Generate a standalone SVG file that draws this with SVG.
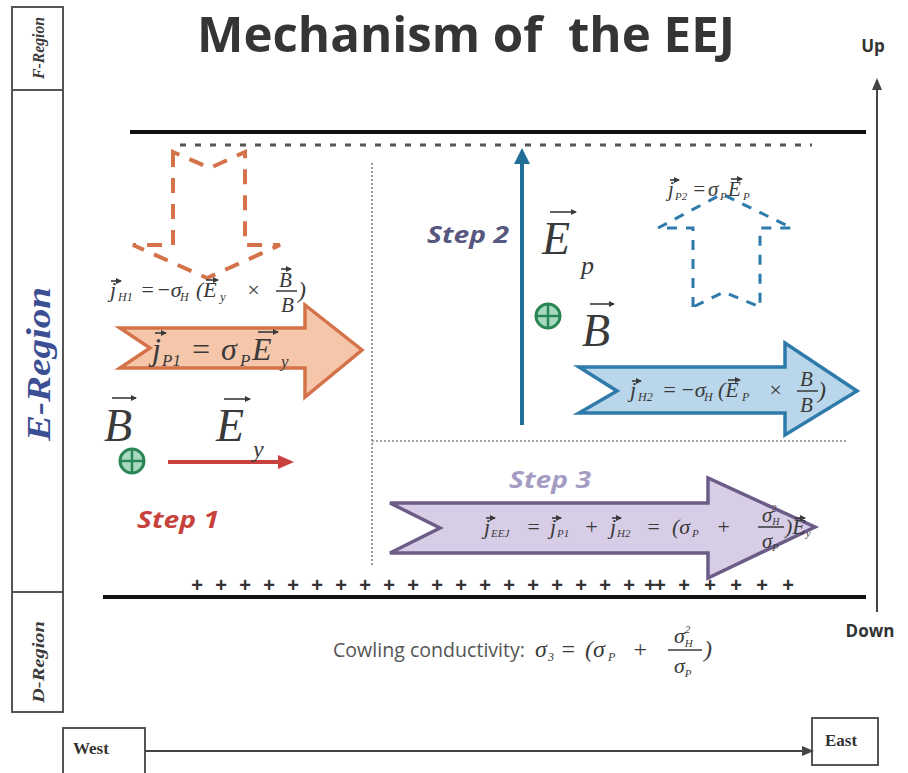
<svg xmlns="http://www.w3.org/2000/svg" width="908" height="773" viewBox="0 0 908 773">
<defs>
<style>
.m{font-family:"Liberation Serif","DejaVu Serif",serif;font-style:italic;fill:#3a3a3a}
.step{font-family:"Open Sans","Liberation Sans",sans-serif;font-weight:700;font-style:italic;font-size:24px}
.reg{font-family:"Liberation Serif",serif;font-weight:700;font-style:italic;fill:#3a3a3a}
.box{fill:#fff;stroke:#555;stroke-width:2}
.va{stroke:#3a3a3a;stroke-width:1.6;fill:none}
.lbl{font-family:"Liberation Serif",serif;font-weight:700;fill:#333;font-size:17px}
.frac{stroke:#3a3a3a;stroke-width:1.5}
</style>
<marker id="vh" markerWidth="6" markerHeight="6" refX="5" refY="3" orient="auto" markerUnits="userSpaceOnUse"><path d="M0,0 L6,3 L0,6 Z" fill="#3a3a3a"/></marker>
<marker id="ah" markerWidth="12" markerHeight="12" refX="10" refY="6" orient="auto" markerUnits="userSpaceOnUse"><path d="M0,1 L12,6 L0,11 Z" fill="#444"/></marker>
<marker id="ahb" markerWidth="16" markerHeight="16" refX="12" refY="8" orient="auto" markerUnits="userSpaceOnUse"><path d="M0,0 L16,8 L0,16 Z" fill="#1f6f99"/></marker>
<marker id="ahr" markerWidth="16" markerHeight="16" refX="12" refY="8" orient="auto" markerUnits="userSpaceOnUse"><path d="M0,1 L16,8 L0,15 Z" fill="#c9413e"/></marker>
</defs>
<rect width="908" height="773" fill="#fff"/>

<!-- title -->
<text id="title" x="197" y="52" textLength="538" lengthAdjust="spacingAndGlyphs" font-family="Open Sans, Liberation Sans, sans-serif" font-weight="700" font-size="49" fill="#353535" xml:space="preserve">Mechanism of  the EEJ</text>

<!-- left region column -->
<g id="regions">
<rect class="box" x="12" y="7" width="51" height="705"/>
<line x1="12" y1="90" x2="63" y2="90" stroke="#555" stroke-width="2"/>
<line x1="12" y1="592" x2="63" y2="592" stroke="#555" stroke-width="2"/>
<text class="reg" font-size="17" transform="translate(44,48) rotate(-90)" text-anchor="middle" textLength="62" lengthAdjust="spacingAndGlyphs">F-Region</text>
<text class="reg" font-size="33" style="fill:#3c4f94" transform="translate(50,364) rotate(-90)" text-anchor="middle" textLength="154" lengthAdjust="spacingAndGlyphs">E-Region</text>
<text class="reg" font-size="17" transform="translate(44,662) rotate(-90)" text-anchor="middle" textLength="82" lengthAdjust="spacingAndGlyphs">D-Region</text>
</g>

<!-- boundary lines -->
<g id="layers">
<line x1="130" y1="132" x2="866" y2="132" stroke="#111" stroke-width="4"/>
<line x1="180" y1="145" x2="812" y2="145" stroke="#555" stroke-width="3" stroke-dasharray="6 9"/>
<line x1="103" y1="597" x2="866" y2="597" stroke="#111" stroke-width="4"/>
<line x1="372" y1="163" x2="372" y2="565" stroke="#777" stroke-width="1.5" stroke-dasharray="2 2"/>
<line x1="372" y1="441" x2="846" y2="441" stroke="#888" stroke-width="1.5" stroke-dasharray="2 2"/>
<text y="592" font-family="Liberation Sans, sans-serif" font-weight="700" font-size="20" fill="#333" text-anchor="middle">
<tspan x="197">+</tspan><tspan x="221">+</tspan><tspan x="245">+</tspan><tspan x="269">+</tspan><tspan x="293">+</tspan><tspan x="317">+</tspan><tspan x="341">+</tspan><tspan x="365">+</tspan><tspan x="389">+</tspan><tspan x="413">+</tspan><tspan x="437">+</tspan><tspan x="461">+</tspan><tspan x="485">+</tspan><tspan x="509">+</tspan><tspan x="533">+</tspan><tspan x="557">+</tspan><tspan x="581">+</tspan><tspan x="605">+</tspan><tspan x="629">+</tspan><tspan x="650">+</tspan><tspan x="660">+</tspan><tspan x="684">+</tspan><tspan x="710">+</tspan><tspan x="736">+</tspan><tspan x="762">+</tspan><tspan x="788">+</tspan></text>
</g>

<!-- Up/Down axis -->
<g id="updown">
<line x1="877" y1="612" x2="877" y2="80" stroke="#444" stroke-width="2" marker-end="url(#ah)"/>
<text x="873" y="52" text-anchor="middle" font-family="Open Sans, Liberation Sans, sans-serif" font-weight="700" font-size="17" fill="#333">Up</text>
<text x="870" y="637" text-anchor="middle" font-family="Open Sans, Liberation Sans, sans-serif" font-weight="700" font-size="17" fill="#333">Down</text>
</g>

<!-- West/East axis -->
<g id="west">
<rect class="box" x="63" y="728" width="82" height="50"/>
<text class="lbl" x="73" y="754">West</text>
</g>
<g id="east">
<rect class="box" x="812" y="718" width="66" height="47"/>
<text class="lbl" x="825" y="746">East</text>
</g>
<g id="connectors">
<line x1="145" y1="751" x2="812" y2="751" stroke="#444" stroke-width="2" marker-end="url(#ah)"/>
</g>

<!-- Step 1 -->
<g id="step1">
<path d="M173,152 L173,245 L133,245 L207,278 L280,245 L245,245 L245,152 L210,168 Z" fill="none" stroke="#d4734a" stroke-width="4" stroke-dasharray="15 11"/>
<path d="M120,328 L305,328 L305,305 L362,350 L305,397 L305,368 L120,368 L150,348 Z" fill="#f6c6aa" stroke="#d4734a" stroke-width="3.5"/>
<!-- jH1 -->
<text class="m" font-size="22" y="297"><tspan x="110">j</tspan><tspan x="118" y="301" font-size="12">H1</tspan><tspan x="140" y="297">=</tspan><tspan x="156">−σ</tspan><tspan x="180" y="301" font-size="12">H</tspan><tspan x="196" y="297">(E</tspan><tspan x="220" y="301" font-size="13">y</tspan><tspan x="246" y="297">×</tspan></text>
<line class="va" x1="111" y1="281" x2="121" y2="281" marker-end="url(#vh)"/>
<line class="va" x1="206" y1="280" x2="218" y2="280" marker-end="url(#vh)"/>
<text class="m" font-size="21" x="279" y="287">B</text>
<line class="va" x1="281" y1="269" x2="291" y2="269" marker-end="url(#vh)"/>
<line class="frac" x1="276" y1="291" x2="297" y2="291"/>
<text class="m" font-size="21" x="281" y="312">B</text>
<text class="m" font-size="24" x="298" y="298">)</text>
<!-- jP1 -->
<text class="m" font-size="32" y="360"><tspan x="152">j</tspan><tspan x="162" y="366" font-size="17">P1</tspan><tspan x="190" y="360">=</tspan><tspan x="221">σ</tspan><tspan x="240" y="366" font-size="17">P</tspan><tspan x="252" y="360">E</tspan><tspan x="281" y="367" font-size="17">y</tspan></text>
<line class="va" x1="155" y1="333" x2="166" y2="333" marker-end="url(#vh)"/>
<line class="va" x1="258" y1="332" x2="278" y2="332" marker-end="url(#vh)"/>
<!-- B, Ey -->
<text class="m" font-size="46" x="104" y="441">B</text>
<line class="va" x1="112" y1="398" x2="136" y2="398" stroke-width="2" marker-end="url(#vh)"/>
<circle cx="132" cy="461" r="12" fill="#a6d9bf" stroke="#2a8755" stroke-width="3"/>
<line x1="132" y1="449" x2="132" y2="473" stroke="#2a8755" stroke-width="2.5"/>
<line x1="120" y1="461" x2="144" y2="461" stroke="#2a8755" stroke-width="2.5"/>
<line x1="168" y1="462" x2="290" y2="462" stroke="#c9413e" stroke-width="4" marker-end="url(#ahr)"/>
<text class="m" font-size="46" x="216" y="441">E</text>
<text class="m" font-size="24" x="253" y="457">y</text>
<line class="va" x1="224" y1="399" x2="250" y2="399" stroke-width="2" marker-end="url(#vh)"/>
<text class="step" x="137" y="528" fill="#c8423d" textLength="82" lengthAdjust="spacingAndGlyphs">Step 1</text>
</g>

<!-- Step 2 -->
<g id="step2">
<line x1="522" y1="425" x2="522" y2="152" stroke="#1f6f99" stroke-width="4" marker-end="url(#ahb)"/>
<text class="step" x="427" y="243" fill="#57577f" textLength="82" lengthAdjust="spacingAndGlyphs">Step 2</text>
<text class="m" font-size="46" x="542" y="254">E</text>
<line class="va" x1="550" y1="212" x2="576" y2="212" stroke-width="2" marker-end="url(#vh)"/>
<text class="m" font-size="26" x="581" y="274">p</text>
<circle cx="548" cy="316" r="12" fill="#a6d9bf" stroke="#2a8755" stroke-width="3"/>
<line x1="548" y1="304" x2="548" y2="328" stroke="#2a8755" stroke-width="2.5"/>
<line x1="536" y1="316" x2="560" y2="316" stroke="#2a8755" stroke-width="2.5"/>
<text class="m" font-size="46" x="582" y="346">B</text>
<line class="va" x1="590" y1="304" x2="614" y2="304" stroke-width="2" marker-end="url(#vh)"/>
<!-- jP2 dashed -->
<path d="M693,307 L693,228 L658,228 L722,194 L792,228 L760,228 L760,307 L724,292 Z" fill="none" stroke="#2e7bab" stroke-width="3" stroke-dasharray="10 9"/>
<text class="m" font-size="21" y="196"><tspan x="668">j</tspan><tspan x="675" y="200" font-size="11">P2</tspan><tspan x="692" y="196">=</tspan><tspan x="708">σ</tspan><tspan x="720" y="200" font-size="11">P</tspan><tspan x="728" y="196">E</tspan><tspan x="743" y="200" font-size="11">P</tspan></text>
<line class="va" x1="670" y1="180" x2="679" y2="180" marker-end="url(#vh)"/>
<line class="va" x1="731" y1="179" x2="742" y2="179" marker-end="url(#vh)"/>
<!-- jH2 arrow -->
<path d="M579,367 L785,367 L785,343 L857,391 L785,435 L785,413 L579,413 L617,391 Z" fill="#bad6ea" stroke="#2e7bab" stroke-width="3.5"/>
<text class="m" font-size="22" y="397"><tspan x="630">j</tspan><tspan x="638" y="401" font-size="12">H2</tspan><tspan x="662" y="397">=</tspan><tspan x="680">−σ</tspan><tspan x="704" y="401" font-size="12">H</tspan><tspan x="718" y="397">(E</tspan><tspan x="742" y="401" font-size="12">P</tspan><tspan x="768" y="397">×</tspan></text>
<line class="va" x1="632" y1="381" x2="641" y2="381" marker-end="url(#vh)"/>
<line class="va" x1="728" y1="380" x2="740" y2="380" marker-end="url(#vh)"/>
<text class="m" font-size="21" x="800" y="386">B</text>
<line class="frac" x1="797" y1="391" x2="818" y2="391"/>
<text class="m" font-size="21" x="800" y="412">B</text>
<text class="m" font-size="24" x="818" y="398">)</text>
</g>

<!-- Step 3 -->
<g id="step3">
<text class="step" x="509" y="488" fill="#a59cc4" textLength="82" lengthAdjust="spacingAndGlyphs">Step 3</text>
<path d="M390,503 L708,503 L708,478 L815,527 L708,578 L708,553 L390,553 L440,528 Z" fill="#d8cde6" stroke="#6b5c88" stroke-width="3.5"/>
<text class="m" font-size="22" y="534"><tspan x="484">j</tspan><tspan x="491" y="537" font-size="11">EEJ</tspan><tspan x="526" y="534">=</tspan><tspan x="550">j</tspan><tspan x="557" y="537" font-size="11">P1</tspan><tspan x="584" y="534">+</tspan><tspan x="610">j</tspan><tspan x="617" y="537" font-size="11">H2</tspan><tspan x="646" y="534">=</tspan><tspan x="672">(σ</tspan><tspan x="692" y="537" font-size="11">P</tspan><tspan x="716" y="534">+</tspan></text>
<line class="va" x1="486" y1="518" x2="495" y2="518" marker-end="url(#vh)"/>
<line class="va" x1="552" y1="518" x2="561" y2="518" marker-end="url(#vh)"/>
<line class="va" x1="612" y1="518" x2="621" y2="518" marker-end="url(#vh)"/>
<text class="m" font-size="21" x="762" y="522">σ<tspan font-size="10" dy="3">H</tspan><tspan font-size="10" dx="-8" dy="-13">2</tspan></text>
<line class="frac" x1="758" y1="527" x2="784" y2="527"/>
<text class="m" font-size="21" x="762" y="548">σ<tspan font-size="10" dy="3">P</tspan></text>
<text class="m" font-size="22" x="785" y="534">)E<tspan font-size="11" dy="3">y</tspan></text>
<line class="va" x1="795" y1="518" x2="805" y2="518" marker-end="url(#vh)"/>
</g>

<!-- Cowling -->
<g id="cowling">
<text x="333" y="657" textLength="192" lengthAdjust="spacingAndGlyphs" font-family="Open Sans, Liberation Sans, sans-serif" font-size="20" fill="#555">Cowling conductivity:</text>
<text class="m" font-size="24" y="657"><tspan x="535">σ</tspan><tspan x="548" y="661" font-size="12">3</tspan><tspan x="560" y="657">=</tspan><tspan x="585">(σ</tspan><tspan x="608" y="661" font-size="12">P</tspan><tspan x="632" y="657">+</tspan></text>
<text class="m" font-size="22" x="674" y="643">σ<tspan font-size="11" dy="4">H</tspan><tspan font-size="11" dx="-8" dy="-14">2</tspan></text>
<line class="frac" x1="668" y1="650" x2="702" y2="650"/>
<text class="m" font-size="22" x="674" y="673">σ<tspan font-size="11" dy="4">P</tspan></text>
<text class="m" font-size="24" x="704" y="657">)</text>
</g>
</svg>
